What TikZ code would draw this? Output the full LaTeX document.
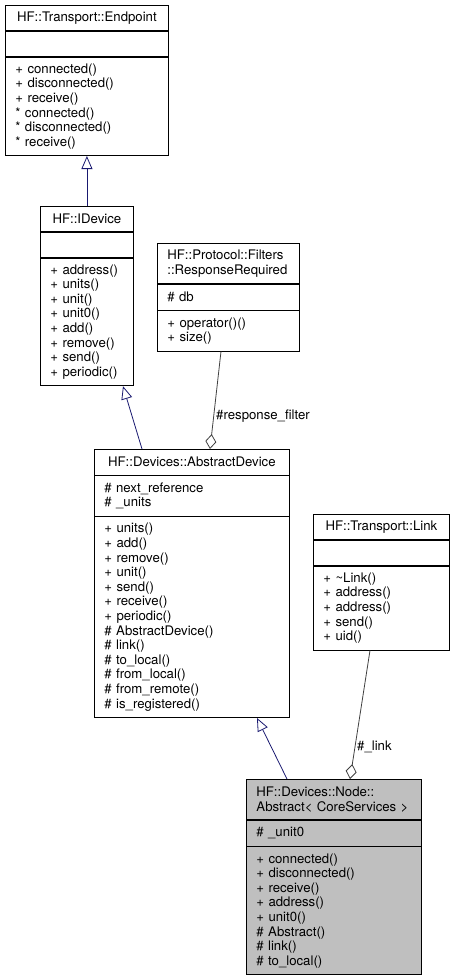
\documentclass[tikz,border=0pt]{standalone}
\usepackage{fontspec}
\setmainfont{TeX Gyre Heros}
\usetikzlibrary{arrows.meta,positioning}

\definecolor{inheritblue}{RGB}{25,25,112}
\definecolor{aggrgray}{RGB}{64,64,64}
\definecolor{focusgray}{RGB}{191,191,191}
\newcommand{\umlfont}{\fontsize{13.2}{14.6}\selectfont}

\tikzset{
  umlpart/.style={draw=black, line width=0.8pt, anchor=north west, inner xsep=10pt, inner ysep=0pt, font=\umlfont},
  umltitle/.style={umlpart, align=center},
  umlbody/.style={umlpart, align=left},
  inherit/.style={draw=inheritblue, line width=0.8pt, -{Triangle[open, length=13pt, width=11pt]}},
  aggregate/.style={draw=aggrgray, line width=0.8pt, -{Diamond[open, length=15pt, width=11pt]}},
  edgelabel/.style={font=\umlfont, anchor=west, inner sep=0pt},
}

\begin{document}
\begin{tikzpicture}[x=1pt,y=1pt,yscale=-1,xscale=1]
\useasboundingbox (0,0) rectangle (454,979);

%Class: HF::Transport::Endpoint
\node [umltitle, minimum width=163pt, text width=143pt, minimum height=25pt] (ep-title) at (5,5) {HF::Transport::Endpoint};
\node [umlbody, minimum width=163pt, text width=143pt, minimum height=25pt] (ep-attr) at (ep-title.south west) {};
\node [umlbody, minimum width=163pt, text width=143pt, minimum height=98.6pt] (ep-ops) at (ep-attr.south west) {+ connected()\\+ disconnected()\\+ receive()\\{*} connected()\\{*} disconnected()\\{*} receive()};

%Class: HF::IDevice
\node [umltitle, minimum width=93pt, text width=73pt, minimum height=25pt] (idev-title) at (40,206) {HF::IDevice};
\node [umlbody, minimum width=93pt, text width=73pt, minimum height=25pt] (idev-attr) at (idev-title.south west) {};
\node [umlbody, minimum width=93pt, text width=73pt, minimum height=127.8pt] (idev-ops) at (idev-attr.south west) {+ address()\\+ units()\\+ unit()\\+ unit0()\\+ add()\\+ remove()\\+ send()\\+ periodic()};

%Class: HF::Protocol::Filters::ResponseRequired
\node [umlbody, minimum width=142pt, text width=122pt, minimum height=40.2pt] (resp-title) at (157,243) {HF::Protocol::Filters\\::ResponseRequired};
\node [umlbody, minimum width=142pt, text width=122pt, minimum height=25.6pt] (resp-attr) at (resp-title.south west) {\# db};
\node [umlbody, minimum width=142pt, text width=122pt, minimum height=40.2pt] (resp-ops) at (resp-attr.south west) {+ operator()()\\+ size()};

%Class: HF::Devices::AbstractDevice
\node [umltitle, minimum width=195pt, text width=175pt, minimum height=25.6pt] (ad-title) at (94,449) {HF::Devices::AbstractDevice};
\node [umlbody, minimum width=195pt, text width=175pt, minimum height=40.2pt] (ad-attr) at (ad-title.south west) {\# next\_reference\\\# \_units};
\node [umlbody, minimum width=195pt, text width=175pt, minimum height=200.8pt] (ad-ops) at (ad-attr.south west) {+ units()\\+ add()\\+ remove()\\+ unit()\\+ send()\\+ receive()\\+ periodic()\\\# AbstractDevice()\\\# link()\\\# to\_local()\\\# from\_local()\\\# from\_remote()\\\# is\_registered()};

%Class: HF::Transport::Link
\node [umltitle, minimum width=136pt, text width=116pt, minimum height=25pt] (link-title) at (313,514) {HF::Transport::Link};
\node [umlbody, minimum width=136pt, text width=116pt, minimum height=25pt] (link-attr) at (link-title.south west) {};
\node [umlbody, minimum width=136pt, text width=116pt, minimum height=84pt] (link-ops) at (link-attr.south west) {+ \textasciitilde Link()\\+ address()\\+ address()\\+ send()\\+ uid()};

%Class: HF::Devices::Node::Abstract< CoreServices >
\node [umlbody, fill=focusgray, minimum width=175pt, text width=155pt, minimum height=40.2pt] (node-title) at (246,779) {HF::Devices::Node::\\Abstract<~CoreServices~>};
\node [umlbody, fill=focusgray, minimum width=175pt, text width=155pt, minimum height=25.6pt] (node-attr) at (node-title.south west) {\# \_unit0};
\node [umlbody, fill=focusgray, minimum width=175pt, text width=155pt, minimum height=127.8pt] (node-ops) at (node-attr.south west) {+ connected()\\+ disconnected()\\+ receive()\\+ address()\\+ unit0()\\\# Abstract()\\\# link()\\\# to\_local()};

%Inheritance
\draw [inherit] (idev-title.north) -- (ep-ops.south);
\draw [inherit] ([xshift=48pt]ad-title.north west) -- ([xshift=83pt]idev-ops.south west);
\draw [inherit] ([xshift=41pt]node-title.north west) -- ([xshift=163pt]ad-ops.south west);

%Aggregation
\draw [aggregate] ([xshift=64pt]resp-ops.south west) -- ([xshift=116pt]ad-title.north west);
\draw [aggregate] ([xshift=57pt]link-ops.south west) -- ([xshift=104pt]node-title.north west);

% Text Node
\node [edgelabel] (resp-label) at (216,416) {\#response\_filter};
\node [edgelabel] (link-label) at (357,747) {\#\_link};

\end{tikzpicture}
\end{document}
